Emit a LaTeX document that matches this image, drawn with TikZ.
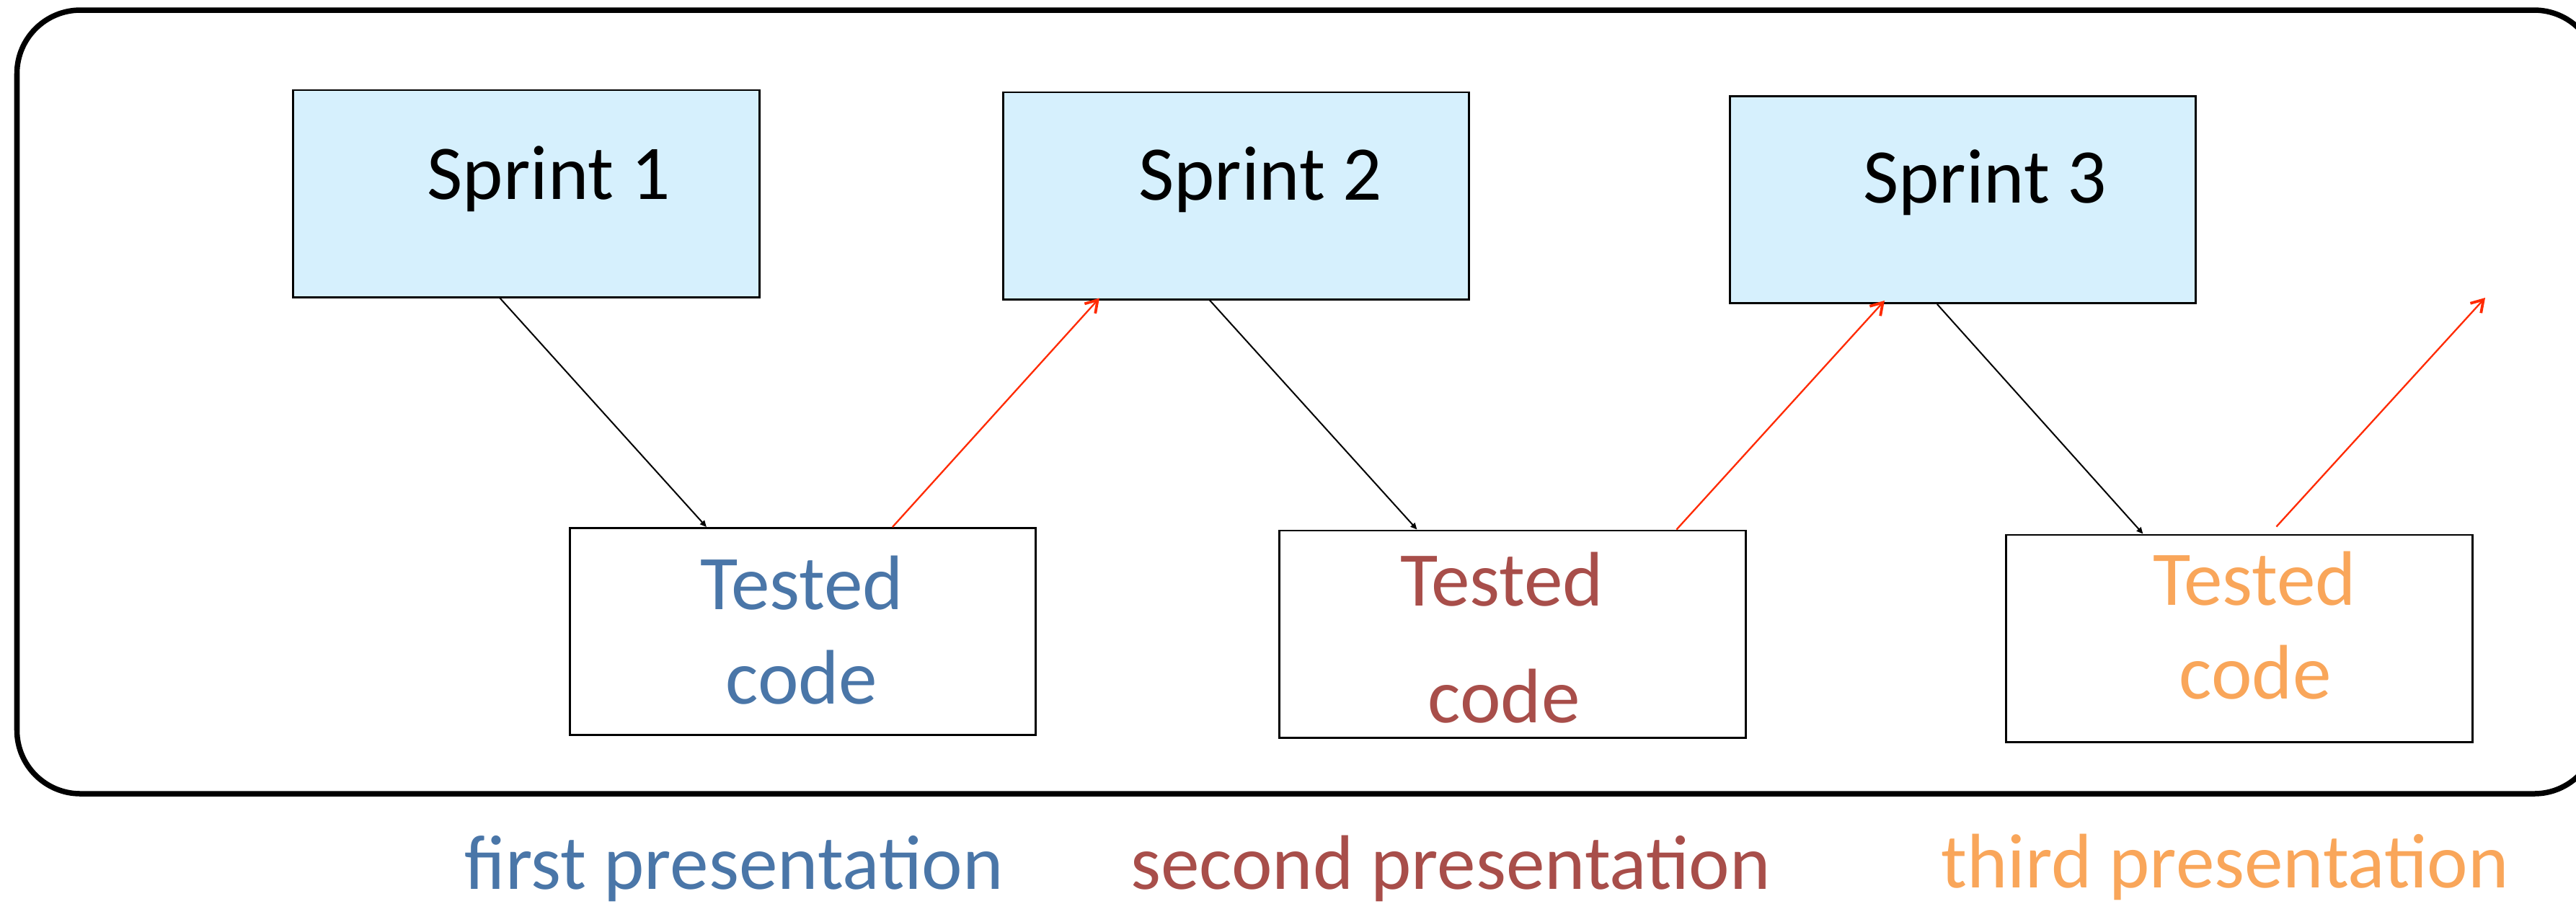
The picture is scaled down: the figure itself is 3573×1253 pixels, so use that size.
\documentclass[tikz,border=0pt]{standalone}
\usepackage{fontspec}
\setmainfont{Carlito}
\usetikzlibrary{arrows.meta,calc}

\definecolor{sprintfill}{HTML}{D6F0FD}
\definecolor{firstblue}{HTML}{4A76A8}
\definecolor{secondred}{HTML}{A84E4A}
\definecolor{thirdorange}{HTML}{F9A65A}
\definecolor{feedback}{HTML}{FF2A00}

\tikzset{
  frame/.style={draw=black, line width=0.075cm, rounded corners=0.88cm},
  sprintbox/.style={draw=black, fill=sprintfill, line width=0.028cm,
    minimum width=6.46cm, minimum height=2.87cm, inner sep=0pt},
  codebox/.style={draw=black, fill=white, line width=0.028cm,
    minimum width=6.46cm, minimum height=2.87cm, inner sep=0pt},
  bigtext/.style={font=\fontsize{30.5}{36}\selectfont, inner sep=0pt, anchor=base},
  plan/.style={draw=black, line width=0.02cm,
    -{Triangle[length=0.09cm,width=0.08cm]}},
  review/.style={draw=feedback, line width=0.023cm,
    -{Straight Barb[length=0.16cm,width=0.2cm,line width=0.038cm]}}
}

\begin{document}
\begin{tikzpicture}[x=0.01cm,y=-0.01cm]
\useasboundingbox (0,0) rectangle (3573,1253);

% outer frame (its right side runs past the page edge)
\draw[frame] (23.5,14) rectangle (3603,1101);

% sprint boxes
\node[sprintbox] (s1) at (730,268.5) {};
\node[sprintbox] (s2) at (1714.5,271.5) {};
\node[sprintbox] (s3) at (2722.5,277) {};

% tested code boxes
\node[codebox] (t1) at (1113.5,876) {};
\node[codebox] (t2) at (2098,879.5) {};
\node[codebox] (t3) at (3106,885.5) {};

% box captions
\node[bigtext] (s1txt) at (761.5,276) {Sprint 1};
\node[bigtext] (s2txt) at (1748,277) {Sprint 2};
\node[bigtext] (s3txt) at (2753,281) {Sprint 3};

\node[bigtext, text=firstblue] (t1a) at (1112,845) {Tested};
\node[bigtext, text=firstblue] (t1b) at (1112,976) {code};
\node[bigtext, text=secondred] (t2a) at (2083,840) {Tested};
\node[bigtext, text=secondred] (t2b) at (2086,1002) {code};
\node[bigtext, text=thirdorange] (t3a) at (3127,839) {Tested};
\node[bigtext, text=thirdorange] (t3b) at (3128,969) {code};

% presentation labels under the frame
\node[bigtext, text=firstblue] (p1) at (1018,1233) {first presentation};
\node[bigtext, text=secondred] (p2) at (2012,1233) {second presentation};
\node[bigtext, text=thirdorange] (p3) at (3086,1231) {third presentation};

% sprint -> tested code
\draw[plan] ($(s1.south west)+(288,0)$) -- ($(t1.north west)+(191,0)$);
\draw[plan] ($(s2.south west)+(288,0)$) -- ($(t2.north west)+(192,0)$);
\draw[plan] ($(s3.south west)+(289,0)$) -- ($(t3.north west)+(191,0)$);

% tested code -> next sprint
\coordinate (next) at (3447,413);
\draw[review] ($(t1.north west)+(449,0)$) -- ($(s2.south west)+(135,-3)$);
\draw[review] ($(t2.north west)+(552,0)$) -- ($(s3.south west)+(216,-5)$);
\draw[review] ($(t3.north west)+(376,-10)$) -- (next);
\end{tikzpicture}
\end{document}
